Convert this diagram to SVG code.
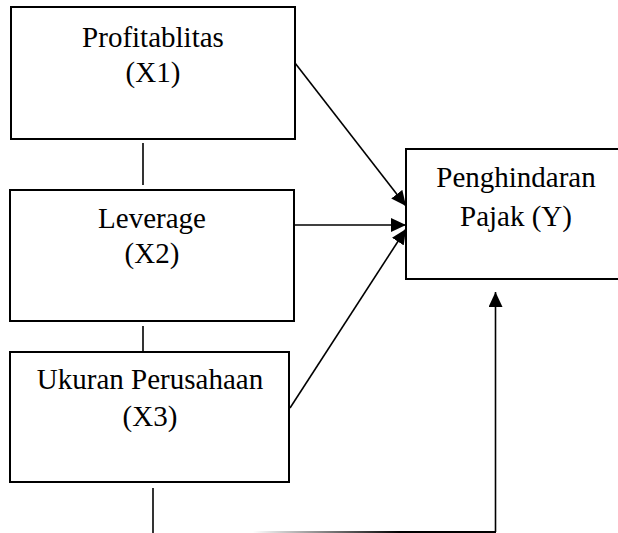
<svg xmlns="http://www.w3.org/2000/svg" width="618" height="533" viewBox="0 0 618 533">
<style>
.box{fill:#fff;stroke:#000;stroke-width:2}
.t{font-family:"Liberation Serif","Times New Roman",serif;font-size:29px;fill:#000;text-anchor:middle}
.ln{stroke:#000;stroke-width:1.6;fill:none}
</style>
<defs>
<marker id="ah" markerUnits="userSpaceOnUse" markerWidth="16" markerHeight="14" refX="15" refY="7" orient="auto">
<path d="M0,0 L15,7 L0,14 z" fill="#000"/>
</marker>
<linearGradient id="fade" gradientUnits="userSpaceOnUse" x1="253" y1="0" x2="400" y2="0">
<stop offset="0" stop-color="#fff"/>
<stop offset="1" stop-color="#000"/>
</linearGradient>
</defs>
<g id="x1">
<rect class="box" x="11" y="7" width="284" height="132"/>
<text class="t" x="153" y="47">Profitablitas</text>
<text class="t" x="153" y="82">(X1)</text>
</g>
<g id="x2">
<rect class="box" x="10" y="190" width="284" height="131"/>
<text class="t" x="152" y="228">Leverage</text>
<text class="t" x="152" y="263">(X2)</text>
</g>
<g id="x3">
<rect class="box" x="10" y="352" width="279" height="130"/>
<text class="t" x="150" y="389">Ukuran Perusahaan</text>
<text class="t" x="150" y="426">(X3)</text>
</g>
<g id="y">
<rect class="box" x="406" y="149" width="230" height="130"/>
<text class="t" x="516" y="187">Penghindaran</text>
<text class="t" x="516" y="226">Pajak (Y)</text>
</g>
<g id="connectors">
<line class="ln" x1="143" y1="143" x2="143" y2="185"/>
<line class="ln" x1="143" y1="326" x2="143" y2="352"/>
<line class="ln" x1="153" y1="488" x2="153" y2="533"/>
<line class="ln" x1="295" y1="63" x2="406" y2="206" marker-end="url(#ah)"/>
<line class="ln" x1="295" y1="225" x2="406" y2="225" marker-end="url(#ah)"/>
<line class="ln" x1="290" y1="408" x2="406" y2="229" marker-end="url(#ah)"/>
<line x1="253" y1="532" x2="496" y2="532" stroke="url(#fade)" stroke-width="2"/>
<line class="ln" x1="495.5" y1="532" x2="495.5" y2="292" marker-end="url(#ah)"/>
</g>
</svg>
